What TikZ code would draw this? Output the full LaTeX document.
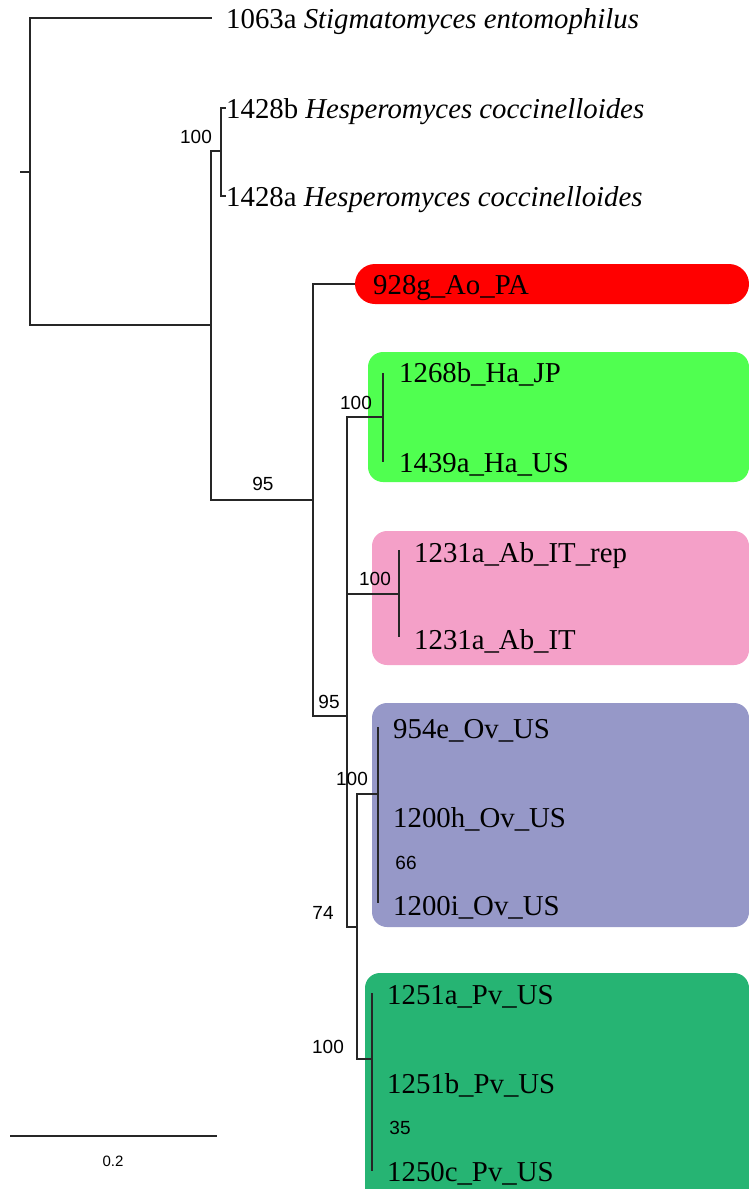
\documentclass[tikz,border=0pt]{standalone}
\usepackage{fontspec}
\setmainfont{Liberation Serif}
\newfontfamily\suppfont{Liberation Sans}
\definecolor{aored}{RGB}{255,0,0}
\definecolor{hagreen}{RGB}{80,255,80}
\definecolor{abpink}{RGB}{244,160,200}
\definecolor{ovblue}{RGB}{150,152,200}
\definecolor{pvgreen}{RGB}{38,180,115}
\tikzset{
  branch/.style={draw=black!85, line width=1.6pt},
  tip/.style={anchor=base west, inner sep=0pt, font=\fontsize{28.8}{30}\selectfont},
  supp/.style={inner sep=0pt, font=\suppfont\fontsize{19}{20}\selectfont},
  cladebox/.style={rounded corners=15pt},
}

\begin{document}
\begin{tikzpicture}[x=1pt,y=-1pt]
\useasboundingbox (0,0) rectangle (749,1189);
\clip (0,0) rectangle (749,1189);
% clade boxes
\fill[aored, rounded corners=20pt] (355,264) rectangle (749,304);
\fill[hagreen, cladebox] (368,352) rectangle (749,482);
\fill[abpink, cladebox] (372,531) rectangle (749,665);
\fill[ovblue, cladebox] (372,703) rectangle (749,927);
\fill[pvgreen, cladebox] (365,973) rectangle (749,1220);
% internal nodes
\coordinate (r0) at (20,172);
\coordinate (root) at (30,172);
\coordinate (n1) at (211,325);
\coordinate (hesp) at (221,151);
\coordinate (n2) at (313,500);
\coordinate (n3) at (347,716);
\coordinate (ha) at (383,417);
\coordinate (ab) at (399,594);
\coordinate (n4) at (357,927);
\coordinate (ov) at (378,794);
\coordinate (ovsub) at (378,861);
\coordinate (pv) at (372,1059);
\coordinate (pvsub) at (372,1127);
% tips
\coordinate (stig) at (212,18);
\coordinate (hespb) at (226,108);
\coordinate (hespa) at (226,196);
\coordinate (ao) at (355,284);
\coordinate (haa) at (383,373);
\coordinate (hab) at (383,462);
\coordinate (aba) at (399,550);
\coordinate (abb) at (399,637);
\coordinate (ova) at (378,727);
\coordinate (ovb) at (378,817);
\coordinate (ovc) at (378,903);
\coordinate (pva) at (372,993);
\coordinate (pvb) at (372,1083);
\coordinate (pvc) at (372,1171);
% branches
\draw[branch] (r0) -- (root);
\foreach \a/\b in {root/stig, root/n1, n1/hesp, n1/n2, hesp/hespb, hesp/hespa,
  n2/ao, n2/n3, n3/ha, n3/ab, n3/n4, ha/haa, ha/hab, ab/aba, ab/abb,
  n4/ov, n4/pv, ov/ova, ov/ovsub, ovsub/ovb, ovsub/ovc,
  pv/pva, pv/pvsub, pvsub/pvb, pvsub/pvc}
  \draw[branch] (\a) |- (\b);
% tip labels
\node[tip] (lstig) at (226,28) {1063a \textit{Stigmatomyces entomophilus}};
\node[tip] (lhespb) at (226,118) {1428b \textit{Hesperomyces coccinelloides}};
\node[tip] (lhespa) at (226,206) {1428a \textit{Hesperomyces coccinelloides}};
\node[tip] (lao) at (373,294) {928g\_Ao\_PA};
\node[tip] (lhaa) at (399,382) {1268b\_Ha\_JP};
\node[tip] (lhab) at (399,472) {1439a\_Ha\_US};
\node[tip] (laba) at (414,562) {1231a\_Ab\_IT\_rep};
\node[tip] (labb) at (414,649) {1231a\_Ab\_IT};
\node[tip] (lova) at (393,738) {954e\_Ov\_US};
\node[tip] (lovb) at (393,827) {1200h\_Ov\_US};
\node[tip] (lovc) at (393,915) {1200i\_Ov\_US};
\node[tip] (lpva) at (387,1004) {1251a\_Pv\_US};
\node[tip] (lpvb) at (387,1093) {1251b\_Pv\_US};
\node[tip] (lpvc) at (387,1181) {1250c\_Pv\_US};
% support values
\node[supp] (shesp) at (196,137) {100};
\node[supp] (sn2) at (263,484) {95};
\node[supp] (sha) at (356,403) {100};
\node[supp] (sab) at (375,579) {100};
\node[supp] (sn3) at (329,702) {95};
\node[supp] (sov) at (352,779) {100};
\node[supp] (sovsub) at (406,863) {66};
\node[supp] (sn4) at (323,913) {74};
\node[supp] (spv) at (328,1047) {100};
\node[supp] (spvsub) at (400,1128) {35};
% scale bar
\coordinate (sb0) at (10,1136);
\coordinate (sb1) at (217,1136);
\draw[branch] (sb0) -- (sb1);
\node[supp, font=\suppfont\fontsize{15}{16}\selectfont] (lsb) at (113,1161) {0.2};
\end{tikzpicture}
\end{document}
